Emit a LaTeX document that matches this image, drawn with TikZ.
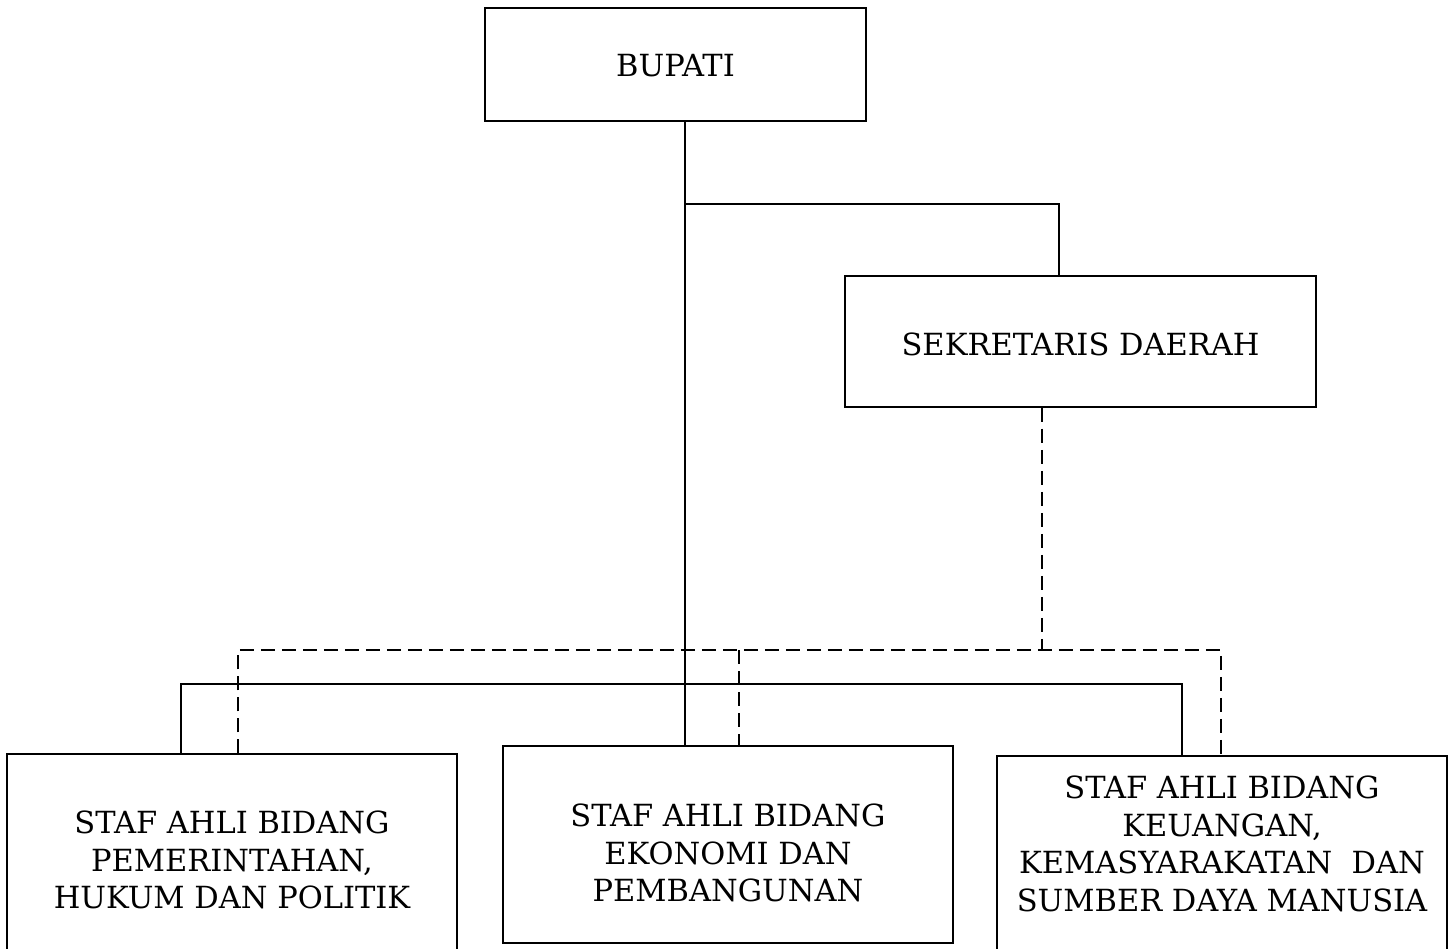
\documentclass[tikz,border=0pt]{standalone}
\usepackage{fontspec}
\setmainfont{DejaVu Serif}
\begin{document}
\begin{tikzpicture}[x=1pt,y=-1pt,
  box/.style={draw,line width=1.5pt,rectangle,inner sep=0pt},
  lbl/.style={align=center,font=\fontsize{30.5}{37.5}\selectfont,inner sep=0pt},
  con/.style={line width=1.5pt},
  dsh/.style={line width=1.5pt,dash pattern=on 14pt off 7pt}]
\useasboundingbox (0,0) rectangle (1454,949);
% boxes
\node[box,minimum width=381pt,minimum height=113pt] (bup) at (675.5,64.5) {};
\node[lbl] (bupt) at (675.5,66) {BUPATI};
\node[box,minimum width=471pt,minimum height=131pt] (sek) at (1080.5,341.5) {};
\node[lbl] (sekt) at (1080.5,344) {SEKRETARIS DAERAH};
\node[box,minimum width=450pt,minimum height=220pt] (lb) at (232,864) {};
\node[lbl] (lbt) at (232,860) {STAF AHLI BIDANG\\PEMERINTAHAN,\\HUKUM DAN POLITIK};
\node[box,minimum width=450pt,minimum height=197pt] (mb) at (728,844.5) {};
\node[lbl] (mbt) at (728,853) {STAF AHLI BIDANG\\EKONOMI DAN\\PEMBANGUNAN};
\node[box,minimum width=450pt,minimum height=220pt] (rb) at (1222,866) {};
\node[lbl] (rbt) at (1222,844) {STAF AHLI BIDANG\\KEUANGAN,\\KEMASYARAKATAN\ \ DAN\\SUMBER DAYA MANUSIA};
% junction coordinates
\coordinate (j1) at (685,204);
\coordinate (j2) at (1059,204);
\coordinate (sl) at (181,684);
\coordinate (sr) at (1182,684);
\coordinate (ds) at (1042,650);
\coordinate (dl) at (238,650);
\coordinate (dm) at (739,650);
\coordinate (dr) at (1221,650);
% solid connectors
\draw[con] (bup.south -| j1) -- (mb.north -| j1);
\draw[con] (j1) -- (j2) -- (sek.north -| j2);
\draw[con] (lb.north -| sl) -- (sl) -- (sr) -- (rb.north -| sr);
% dashed connectors
\draw[dsh] (sek.south -| ds) -- (ds);
\draw[dsh] (lb.north -| dl) -- (dl) -- (dr) -- (rb.north -| dr);
\draw[dsh] (dm) -- (mb.north -| dm);
\end{tikzpicture}
\end{document}
